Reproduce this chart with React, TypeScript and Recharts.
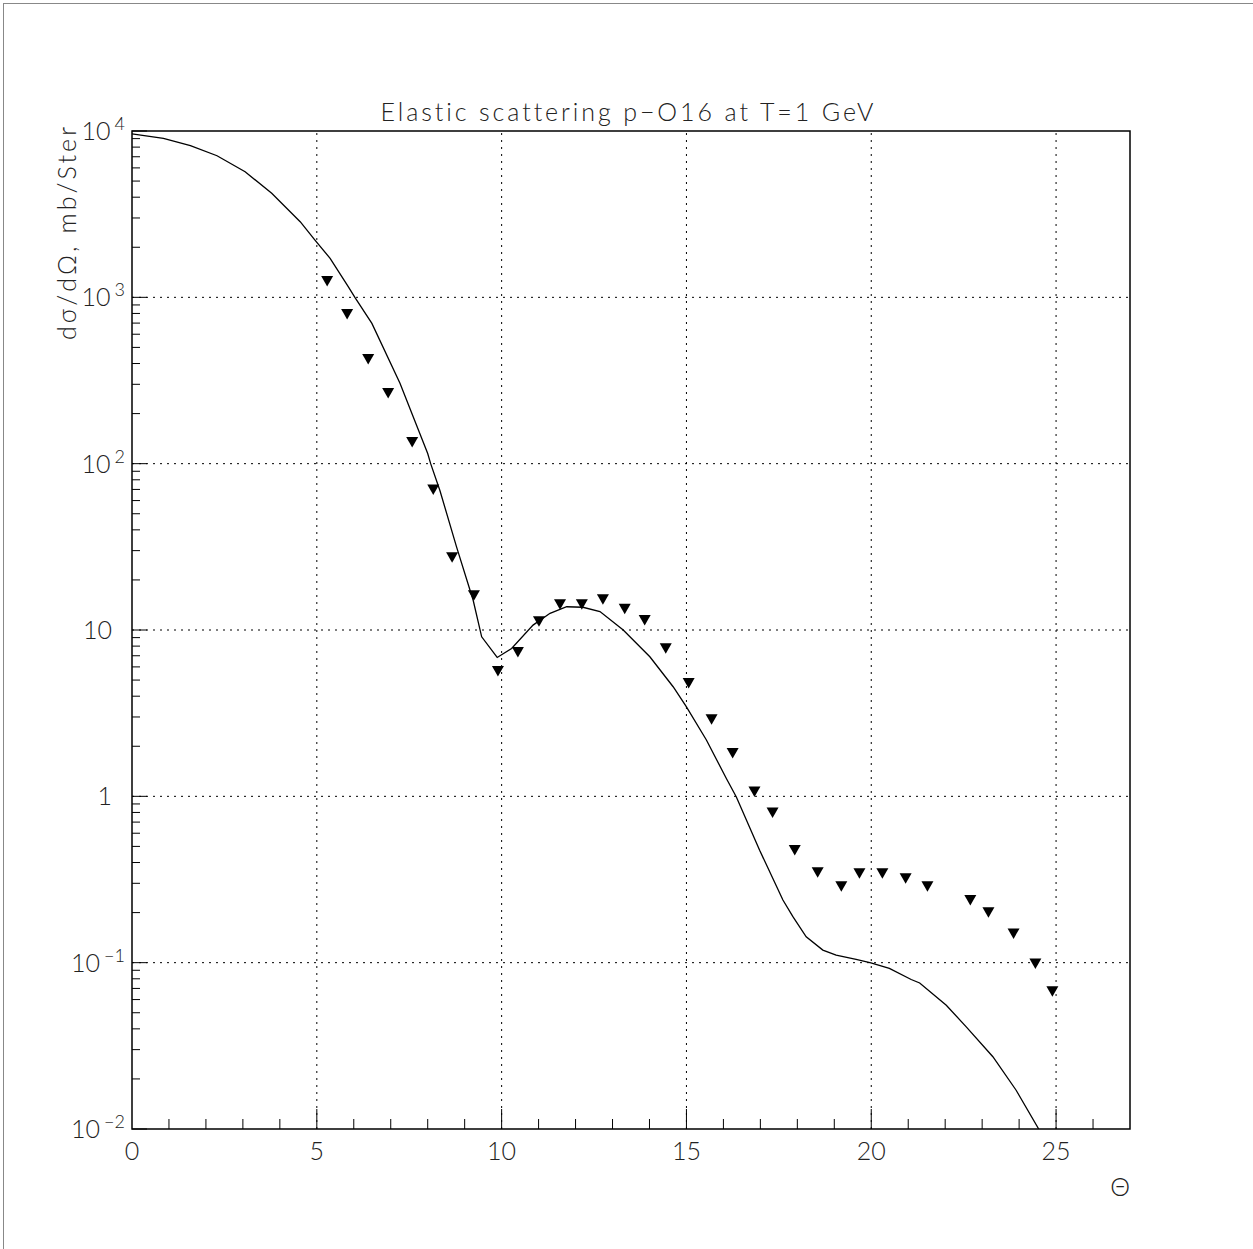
import React from 'react';
import { ComposedChart, Line, Scatter, XAxis, YAxis, ReferenceLine, ReferenceArea } from 'recharts';

// calculated curve (theta in degrees, cross-section in mb/sr)
const CALC_THETA = [
  0, 0.85, 1.58, 2.3, 3.06, 3.78, 4.55, 4.95, 5.36, 5.85, 6.03, 6.49, 7.25, 7.61, 8.0, 8.08, 8.33, 8.78,
  9.23, 9.46, 9.88, 10.27, 10.85, 11.31, 11.76, 12.2, 12.66, 13.29, 14.01, 14.64, 15.0, 15.54, 16.08,
  16.35, 16.98, 17.61, 17.88, 18.24, 18.69, 19.05, 19.59, 19.99, 20.49, 21.08, 21.31, 22.03, 22.57,
  23.29, 23.92, 24.53,
];
const CALC_SIGMA = [
  9600, 9040, 8160, 7100, 5690, 4220, 2850, 2210, 1715, 1160, 1000, 697, 304, 191, 115, 100, 69, 31.6,
  15.1, 9.1, 6.84, 7.74, 10.7, 12.6, 13.8, 13.7, 12.9, 10.0, 6.9, 4.56, 3.45, 2.18, 1.28,
  0.99, 0.474, 0.238, 0.189, 0.143, 0.119, 0.111, 0.1045, 0.0998, 0.0923, 0.0792, 0.0755, 0.0555, 0.0411,
  0.0272, 0.0171, 0.01,
];

// measured points
const EXP_THETA = [
  5.28, 5.82, 6.39, 6.93, 7.58, 8.15, 8.66, 9.25, 9.9, 10.44, 11.01, 11.58, 12.17, 12.74, 13.33, 13.87,
  14.44, 15.06, 15.68, 16.25, 16.84, 17.33, 17.93, 18.55, 19.19, 19.68, 20.3, 20.93, 21.52, 22.68, 23.17,
  23.85, 24.44, 24.9,
];
const EXP_SIGMA = [
  1253, 794, 426, 266, 135, 70, 27.4, 16.2, 5.66, 7.37, 11.3, 14.3, 14.3, 15.3, 13.4, 11.5,
  7.78, 4.8, 2.91, 1.82, 1.07, 0.8, 0.475, 0.35, 0.288, 0.345, 0.345, 0.322, 0.288, 0.238, 0.201,
  0.15, 0.099, 0.0674,
];

const X_TICKS = [0, 1, 2, 3, 4, 5, 6, 7, 8, 9, 10, 11, 12, 13, 14, 15, 16, 17, 18, 19, 20, 21, 22, 23, 24, 25, 26];
const X_GRID = [5, 10, 15, 20, 25];
const DECADES = [0.01, 0.1, 1, 10, 100, 1000, 10000];
const MINOR_STEPS = [2, 3, 4, 5, 6, 7, 8, 9];
const Y_GRID = [0.1, 1, 10, 100, 1000];
const Y_LABEL_BASE = ['10', '10', '1', '10', '10', '10', '10'];
const Y_LABEL_EXP = ['\u22122', '\u22121', '', '', '2', '3', '4'];

const curve = CALC_THETA.map((x, i) => ({ x, y: CALC_SIGMA[i] }));
const points = EXP_THETA.map((x, i) => ({ x, y: EXP_SIGMA[i] }));
const yTicks = [
  ...DECADES,
  ...DECADES.slice(0, -1).flatMap(d => MINOR_STEPS.map(m => d * m)),
];

const FONT = "Lato, 'Open Sans', 'Liberation Sans', sans-serif";
const WEIGHT = 300;
const INK = '#222';
const NO_LIGA = { fontVariantLigatures: 'none' as const };

const XTick = (props: any) => {
  const { x, y, payload } = props;
  const v = payload.value;
  const major = v % 5 === 0;
  return (
    <g>
      {v > 0 && <line x1={x} y1={y} x2={x} y2={y - (major ? 20 : 10)} stroke="#000" strokeWidth={1} />}
      {major && (
        <text x={x} y={y + 31} textAnchor="middle" fontFamily={FONT} fontWeight={WEIGHT} fontSize={25} fill={INK}>
          {v}
        </text>
      )}
    </g>
  );
};

const YTick = (props: any) => {
  const { x, y, payload } = props;
  const v = payload.value;
  const idx = DECADES.indexOf(v);
  const major = idx >= 0;
  return (
    <g>
      <line x1={x} y1={y} x2={x + (major ? 15 : 8)} y2={y} stroke="#000" strokeWidth={1} />
      {major && (
        Y_LABEL_EXP[idx] ? (
          <text x={125} y={y} textAnchor="end" fontFamily={FONT} fontWeight={WEIGHT} fill={INK}>
            <tspan fontSize={25} dy={9}>{Y_LABEL_BASE[idx]}</tspan>
            <tspan fontSize={18} dx={4} dy={-10}>{Y_LABEL_EXP[idx]}</tspan>
          </text>
        ) : (
          <text x={112} y={y + 9} textAnchor="end" fontFamily={FONT} fontWeight={WEIGHT} fontSize={25} fill={INK}>
            {Y_LABEL_BASE[idx]}
          </text>
        )
      )}
    </g>
  );
};

const TriangleDown = (props: any) => {
  const { cx, cy } = props;
  if (cx == null || cy == null) return null;
  return <polygon points={`${cx - 6},${cy - 5} ${cx + 6},${cy - 5} ${cx},${cy + 5.5}`} fill="#000" />;
};

export default function App() {
  return (
    <div style={{ position: 'absolute', left: 0, top: 0, width: 1253, height: 1249, background: '#fff' }}>
      <div
        style={{
          position: 'absolute', left: 3, top: 3, right: 0, bottom: 0,
          borderTop: '1px solid #888', borderLeft: '1px solid #888',
        }}
      />
      <ComposedChart
        width={1253}
        height={1249}
        margin={{ top: 131, right: 123, bottom: 80, left: 72 }}
        style={{ position: 'absolute', left: 0, top: 0 }}
      >
        <XAxis
          type="number"
          dataKey="x"
          domain={[0, 27]}
          ticks={X_TICKS}
          interval={0}
          tickSize={0}
          tickMargin={0}
          axisLine={false}
          tickLine={false}
          tick={<XTick />}
          height={40}
          allowDataOverflow
        />
        <YAxis
          type="number"
          dataKey="y"
          scale="log"
          domain={[0.01, 10000]}
          ticks={yTicks}
          interval={0}
          tickSize={0}
          tickMargin={0}
          axisLine={false}
          tickLine={false}
          tick={<YTick />}
          width={60}
          allowDataOverflow
        />
        {X_GRID.map(v => (
          <ReferenceLine key={`gx${v}`} x={v} stroke="#000" strokeWidth={1} strokeDasharray="2 5" />
        ))}
        {Y_GRID.map(v => (
          <ReferenceLine key={`gy${v}`} y={v} stroke="#000" strokeWidth={1} strokeDasharray="2 5" />
        ))}
        <ReferenceArea x1={0} x2={27} y1={0.01} y2={10000} fill="none" stroke="#000" strokeWidth={1.5} fillOpacity={0} />
        <Line
          data={curve}
          dataKey="y"
          type="linear"
          stroke="#000"
          strokeWidth={1.3}
          dot={false}
          isAnimationActive={false}
        />
        <Scatter data={points} dataKey="y" fill="#000" shape={<TriangleDown />} isAnimationActive={false} />
        <text
          x={627}
          y={121}
          textAnchor="middle"
          fontFamily={FONT}
          fontWeight={WEIGHT}
          fontSize={25}
          fill={INK}
          textLength={493}
          lengthAdjust="spacing"
          style={NO_LIGA}
        >
          Elastic scattering p−O16 at T=1 GeV
        </text>
        <text
          x={76}
          y={127}
          textAnchor="end"
          transform="rotate(-90 76 127)"
          fontFamily={FONT}
          fontWeight={WEIGHT}
          fontSize={25}
          fill={INK}
          textLength={213}
          lengthAdjust="spacing"
          style={NO_LIGA}
        >
          dσ/dΩ, mb/Ster
        </text>
        <text x={1130} y={1196} textAnchor="end" fontFamily={FONT} fontWeight={WEIGHT} fontSize={25} fill={INK}>
          Θ
        </text>
      </ComposedChart>
    </div>
  );
}
